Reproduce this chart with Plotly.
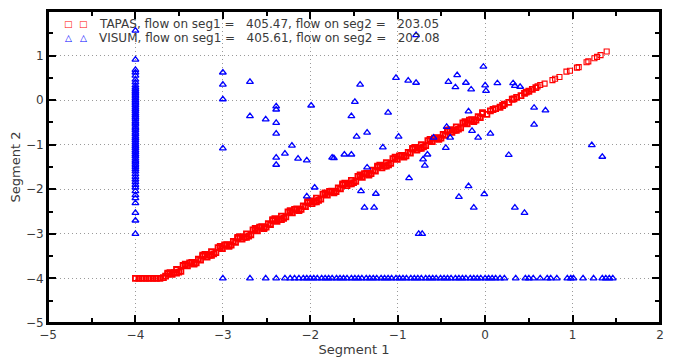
import plotly.graph_objects as go

# ── TAPAS (red squares) ──
tapas_x = [-4.00, -3.96, -3.92, -3.88, -3.84, -3.80, -3.76, -3.72,
           -3.68, -3.63, -3.58, -3.53, -3.48, -3.43, -3.38, -3.33, -3.28, -3.23,
           -3.18, -3.13, -3.08, -3.03, -2.98, -2.93, -2.88, -2.83, -2.78, -2.73,
           -2.68, -2.63, -2.58, -2.53, -2.48, -2.43, -2.38, -2.33, -2.28, -2.23,
           -2.18, -2.13, -2.08, -2.03, -1.98, -1.93, -1.88, -1.83, -1.78, -1.73,
           -1.68, -1.63, -1.58, -1.53, -1.48, -1.43, -1.38, -1.33, -1.28, -1.23,
           -1.18, -1.13, -1.08, -1.03, -0.98, -0.93, -0.88, -0.83, -0.78, -0.73,
           -0.68, -0.63, -0.58, -0.53, -0.48, -0.43, -0.38, -0.33, -0.28, -0.23,
           -0.18, -0.13, -0.08, -0.03, 0.02, 0.06, 0.12, 0.17, 0.22, 0.27,
           0.31, 0.36, 0.41, 0.45, 0.50, 0.54, 0.58, 0.63, 0.68, 0.77,
           0.80, 0.85, 0.93, 0.97, 1.05, 1.07, 1.16, 1.18, 1.25, 1.28, 1.32, 1.39,
           # second, interleaved pass over the dense part
           -3.655, -3.605, -3.555, -3.505, -3.455, -3.405, -3.355, -3.305, -3.255,
           -3.205, -3.155, -3.105, -3.055, -3.005, -2.955, -2.905, -2.855, -2.805,
           -2.755, -2.705, -2.655, -2.605, -2.555, -2.505, -2.455, -2.405, -2.355,
           -2.305, -2.255, -2.205, -2.155, -2.105, -2.055, -2.005, -1.955, -1.905,
           -1.855, -1.805, -1.755, -1.705, -1.655, -1.605, -1.555, -1.505, -1.455,
           -1.405, -1.355, -1.305, -1.255, -1.205, -1.155, -1.105, -1.055, -1.005,
           -0.955, -0.905, -0.855, -0.805, -0.755, -0.705, -0.655, -0.605, -0.555,
           -0.505, -0.455, -0.405, -0.355, -0.305, -0.255, -0.205, -0.155, -0.105,
           -0.055, 0.09, 0.20, 0.33, 0.47, 0.60,
           # third pass
           -3.63, -3.53, -3.43, -3.33, -3.23, -3.13, -3.03, -2.93, -2.83, -2.73,
           -2.63, -2.53, -2.43, -2.33, -2.23, -2.13, -2.03, -1.93, -1.83, -1.73,
           -1.63, -1.53, -1.43, -1.33, -1.23, -1.13, -1.03, -0.93, -0.83, -0.73,
           -0.63, -0.53, -0.43, -0.33, -0.23, -0.13, -0.03]
tapas_y = [-4.00, -4.00, -4.00, -4.00, -4.00, -4.00, -4.00, -4.00,
           -3.98, -3.90, -3.91, -3.80, -3.84, -3.71, -3.65, -3.66, -3.57, -3.50,
           -3.52, -3.40, -3.42, -3.31, -3.25, -3.26, -3.17, -3.10, -3.12, -3.00,
           -3.02, -2.91, -2.85, -2.86, -2.77, -2.70, -2.72, -2.60, -2.62, -2.51,
           -2.45, -2.46, -2.37, -2.30, -2.32, -2.20, -2.22, -2.11, -2.05, -2.06,
           -1.97, -1.90, -1.92, -1.80, -1.82, -1.71, -1.65, -1.66, -1.57, -1.50,
           -1.52, -1.40, -1.42, -1.31, -1.25, -1.26, -1.17, -1.10, -1.12, -1.00,
           -1.02, -0.91, -0.85, -0.86, -0.77, -0.70, -0.72, -0.60, -0.62, -0.51,
           -0.45, -0.46, -0.37, -0.30, -0.32, -0.24, -0.19, -0.16, -0.09, -0.05,
           0.02, 0.06, 0.10, 0.15, 0.20, 0.24, 0.28, 0.34, 0.37, 0.45,
           0.48, 0.52, 0.64, 0.66, 0.73, 0.74, 0.85, 0.87, 0.94, 0.97, 1.01, 1.09,
           -3.95, -3.87, -3.87, -3.86, -3.71, -3.72, -3.64, -3.65, -3.59,
           -3.46, -3.48, -3.45, -3.31, -3.33, -3.24, -3.25, -3.19, -3.06,
           -3.08, -3.05, -2.91, -2.93, -2.84, -2.85, -2.79, -2.66, -2.68,
           -2.65, -2.51, -2.53, -2.44, -2.45, -2.39, -2.26, -2.28, -2.25,
           -2.11, -2.13, -2.04, -2.05, -1.99, -1.86, -1.88, -1.85, -1.71,
           -1.73, -1.64, -1.65, -1.59, -1.46, -1.48, -1.45, -1.31, -1.33,
           -1.24, -1.25, -1.19, -1.06, -1.08, -1.05, -0.91, -0.93, -0.84,
           -0.85, -0.79, -0.66, -0.68, -0.65, -0.51, -0.53, -0.44, -0.45,
           -0.39, -0.21, -0.12, 0.03, 0.18, 0.31,
           -3.88, -3.88, -3.68, -3.68, -3.48, -3.48, -3.28, -3.28, -3.08, -3.08,
           -2.88, -2.88, -2.68, -2.68, -2.48, -2.48, -2.28, -2.28, -2.08, -2.08,
           -1.88, -1.88, -1.68, -1.68, -1.48, -1.48, -1.28, -1.28, -1.08, -1.08,
           -0.88, -0.88, -0.68, -0.68, -0.48, -0.48, -0.28]

# ── VISUM (blue triangles) ──
# column at segment 1 = -4
visum_col_y = [1.56, 0.91, 0.68, 0.62, 0.55, 0.46, 0.40, 0.33, 0.28, 0.24, 0.20, 0.16,
               0.12, 0.08, 0.04, 0.00, -0.04, -0.08, -0.12, -0.17, -0.21, -0.25, -0.30,
               -0.34, -0.38, -0.42, -0.47, -0.51, -0.55, -0.60, -0.64, -0.68, -0.73,
               -0.77, -0.82, -0.86, -0.90, -0.95, -1.00, -1.04, -1.08, -1.13, -1.17,
               -1.22, -1.26, -1.31, -1.36, -1.40, -1.45, -1.50, -1.55, -1.60, -1.66,
               -1.72, -1.78, -1.84, -1.90, -1.96, -2.04, -2.13, -2.20, -2.31, -2.53,
               -2.70, -3.00]
# row at segment 2 = -4
visum_row_x = [-3.00, -2.69, -2.51, -2.39, -2.29, -2.23, -2.18, -2.13, -2.08,
               -2.04, -2.00, -1.96, -1.92, -1.87, -1.83, -1.79, -1.75, -1.70, -1.66,
               -1.62, -1.58, -1.53, -1.49, -1.45, -1.41, -1.36, -1.32, -1.28, -1.24,
               -1.19, -1.15, -1.11, -1.07, -1.02, -0.98, -0.94, -0.90, -0.85, -0.81,
               -0.77, -0.73, -0.68, -0.64, -0.60, -0.56, -0.51, -0.47, -0.43, -0.39,
               -0.34, -0.30, -0.26, -0.22, -0.17, -0.13, -0.09, -0.05, 0.00, 0.04,
               0.08, 0.12, 0.17, 0.22, 0.35, 0.46, 0.50, 0.55, 0.63, 0.71, 0.75,
               0.82, 0.94, 0.98, 1.01, 1.12, 1.24, 1.34, 1.38, 1.42, 1.46]
# scattered points
visum_pts_x = [-3.00, -3.00, -3.00, -2.69, -2.69, -2.51, -2.39, -2.39, -2.39, -2.39,
               -2.21, -3.00, -1.99, -1.43, -1.49, -1.53, -1.11, -1.47, -1.35, -1.17,
               -1.02, -0.99, -2.29, -2.39, -2.39, -2.14, -2.04, -1.95, -2.04, -1.75,
               -1.73, -1.61, -1.53, -1.35, -1.42, -1.25, -1.38, -1.27, -0.79, -0.88,
               -0.79, -0.42, -0.32, -0.34, -0.22, -0.16, -0.02, 0.00, 0.01, 0.14,
               0.32, 0.34, 0.40, 0.56, 0.69, 0.56, -0.19, -0.44, -0.40, -0.45,
               -0.15, -0.08, 0.06, 1.22, -0.59, -0.66, -0.71, -0.69, -0.87, 0.27,
               -0.19, -0.30, -0.01, -0.13, 0.34, 0.45, 1.34, -0.76, -0.72]
visum_pts_y = [0.62, 0.35, 0.02, 0.41, -0.36, -0.43, -0.14, -0.21, -0.51, -0.75,
               -1.02, -1.08, -0.12, 0.35, -0.04, -0.36, -0.28, -0.82, -0.73, -1.06,
               0.50, -0.82, -1.20, -1.29, -1.45, -1.31, -1.35, -1.96, -2.16, -1.29,
               -1.30, -1.22, -1.22, -1.51, -2.04, -2.10, -2.41, -2.41, 1.46, 0.44,
               0.39, 0.41, 0.56, 0.29, 0.39, 0.24, 0.75, 0.33, 0.21, 0.38,
               0.38, 0.32, 0.30, -0.17, -0.23, -0.55, -0.25, -0.60, -0.84, -1.07,
               -0.69, -0.84, -0.75, -1.01, -0.84, -1.22, -1.33, -1.47, -1.75, -1.23,
               -1.93, -2.17, -2.11, -2.41, -2.41, -2.53, -1.27, -3.00, -3.00]

visum_x = [-4.0] * len(visum_col_y) + visum_row_x + visum_pts_x
visum_y = visum_col_y + [-4.0] * len(visum_row_x) + visum_pts_y

TAPAS_NAME = "TAPAS, flow on seg1 =   405.47, flow on seg2 =   203.05"
VISUM_NAME = "VISUM, flow on seg1 =   405.61, flow on seg2 =   202.08"

FONT = "DejaVu Sans, Verdana, sans-serif"
TEXT = "#3a3a3a"
RED = "#ff0000"
BLUE = "#0000ff"

# where the squares pile up they merge into a solid band: draw those bolder
tapas_lw = [1.8 if x < 0.6 else 1.1 for x in tapas_x]

fig = go.Figure()
fig.add_trace(go.Scatter(
    x=tapas_x, y=tapas_y, mode="markers", name=TAPAS_NAME,
    marker=dict(symbol="square-open", size=5, color=RED, line=dict(width=tapas_lw)),
))
fig.add_trace(go.Scatter(
    x=visum_x, y=visum_y, mode="markers", name=VISUM_NAME,
    marker=dict(symbol="triangle-up-open", size=6, color=BLUE, line=dict(width=1.3)),
))

axis_common = dict(
    dtick=1, tick0=0, automargin=False,
    showgrid=True, gridcolor="#9a9a9a", gridwidth=1, griddash="1px,3px",
    zeroline=False,
    showline=True, linecolor="black", linewidth=2, mirror="allticks",
    ticks="inside", ticklen=8, tickwidth=1.5, tickcolor="black",
    minor=dict(dtick=0.5, ticks="inside", ticklen=5, tickwidth=1.5,
               tickcolor="black", showgrid=False),
    tickfont=dict(family=FONT, size=12, color=TEXT),
)

fig.update_xaxes(range=[-5, 2], title=dict(text="Segment 1", standoff=2,
                 font=dict(family=FONT, size=13, color=TEXT)), **axis_common)
fig.update_yaxes(range=[-5, 2], title=dict(text="Segment 2", standoff=2,
                 font=dict(family=FONT, size=13, color=TEXT)), **axis_common)

# frame round the plot area
fig.add_shape(type="rect", xref="paper", yref="paper", x0=0, y0=0, x1=1, y1=1,
              line=dict(color="black", width=2), layer="above")

# gnuplot-style key: two sample symbols, then the label
key_rows = [(0.958, "□", RED, TAPAS_NAME), (0.913, "△", BLUE, VISUM_NAME)]
for ky, sym, col, label in key_rows:
    for kx in (0.0327, 0.0588):
        fig.add_annotation(xref="paper", yref="paper", x=kx, y=ky, text=sym,
                           showarrow=False, xanchor="center", yanchor="middle",
                           font=dict(family=FONT, size=9, color=col))
    fig.add_annotation(xref="paper", yref="paper", x=0.080, y=ky, text=label,
                       showarrow=False, xanchor="left", yanchor="middle",
                       font=dict(family=FONT, size=12, color=TEXT))

# the page body adds an 8px margin, so the figure is sized to fit inside it
fig.update_layout(
    width=673, height=352,
    paper_bgcolor="white", plot_bgcolor="white",
    margin=dict(l=40, r=21, t=3, b=37),
    font=dict(family=FONT, size=12, color=TEXT),
    showlegend=False,
)

fig.write_html("out.html")
